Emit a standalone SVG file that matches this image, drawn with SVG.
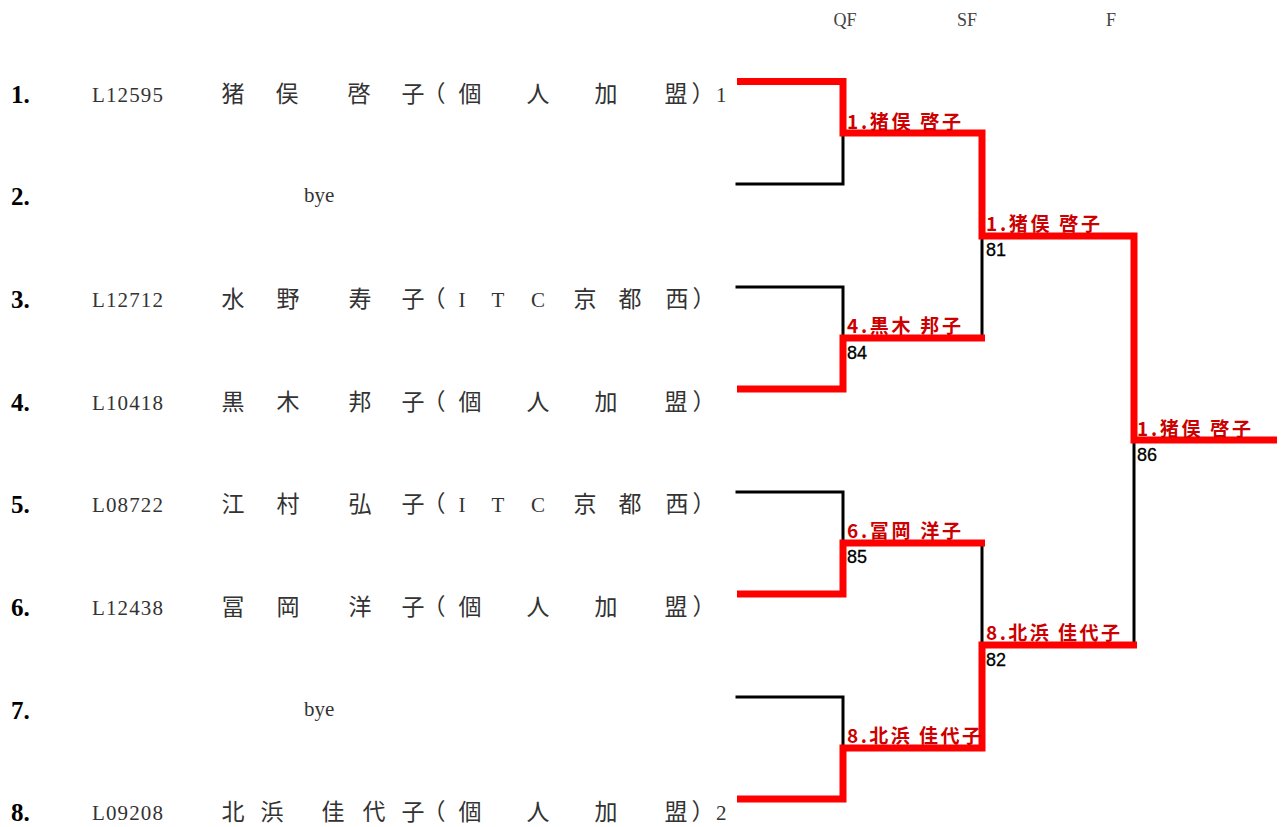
<svg xmlns="http://www.w3.org/2000/svg" width="1282" height="827" viewBox="0 0 1282 827">
<style>
.num{font-family:"Liberation Serif",serif;font-size:25px;font-weight:bold;fill:#000}
.id{font-family:"Liberation Serif",serif;font-size:21px;fill:#333}
.nm{font-family:"Noto Sans CJK JP",sans-serif;font-size:23px;fill:#333}
.lat{font-family:"Liberation Serif",serif;font-size:21px;fill:#333}
.hdr{font-family:"Liberation Serif",serif;font-size:18px;fill:#444}
.win{font-family:"Noto Sans CJK JP",sans-serif;font-size:19px;font-weight:bold;fill:#cc0000}
.sc{font-family:"Liberation Sans",sans-serif;font-size:18px;fill:#000;stroke:#000;stroke-width:0.3}
.red{fill:none;stroke:#ff0000;stroke-width:7;stroke-linejoin:miter;stroke-linecap:butt}
.blk{fill:none;stroke:#000;stroke-width:3;stroke-linecap:square}
</style>
<rect width="1282" height="827" fill="#fff"/>
<g id="headers">
<text class="hdr" x="845" y="26" text-anchor="middle">QF</text>
<text class="hdr" x="967" y="26" text-anchor="middle">SF</text>
<text class="hdr" x="1111" y="26" text-anchor="middle">F</text>
</g>
<g id="entry-1">
<text class="num" x="11" y="103">1.</text>
<text class="id" x="92" y="102" textLength="71">L12595</text>
<text class="nm" y="102" text-anchor="middle" x="233 287 359 413 434 470 538 606 676 703">猪俣啓子（個人加盟）</text>
<text class="lat" x="716" y="102">1</text>
</g>
<g id="entry-2">
<text class="num" x="11" y="205">2.</text>
<text class="lat" x="304" y="202">bye</text>
</g>
<g id="entry-3">
<text class="num" x="11" y="308">3.</text>
<text class="id" x="92" y="307" textLength="71">L12712</text>
<text class="nm" y="307" text-anchor="middle" x="233 288 360 413 434">水野寿子（</text>
<text class="lat" y="307" text-anchor="middle" x="462 498 538">ITC</text>
<text class="nm" y="307" text-anchor="middle" x="585 630 677 704">京都西）</text>
</g>
<g id="entry-4">
<text class="num" x="11" y="411">4.</text>
<text class="id" x="92" y="410" textLength="71">L10418</text>
<text class="nm" y="410" text-anchor="middle" x="233 288 360 413 434 470 538 606 676 704">黒木邦子（個人加盟）</text>
</g>
<g id="entry-5">
<text class="num" x="11" y="513">5.</text>
<text class="id" x="92" y="512" textLength="71">L08722</text>
<text class="nm" y="512" text-anchor="middle" x="233 288 360 413 434">江村弘子（</text>
<text class="lat" y="512" text-anchor="middle" x="462 498 538">ITC</text>
<text class="nm" y="512" text-anchor="middle" x="585 630 677 704">京都西）</text>
</g>
<g id="entry-6">
<text class="num" x="11" y="616">6.</text>
<text class="id" x="92" y="615" textLength="71">L12438</text>
<text class="nm" y="615" text-anchor="middle" x="233 288 360 413 434 470 538 606 676 704">冨岡洋子（個人加盟）</text>
</g>
<g id="entry-7">
<text class="num" x="11" y="719">7.</text>
<text class="lat" x="304" y="716">bye</text>
</g>
<g id="entry-8">
<text class="num" x="11" y="821">8.</text>
<text class="id" x="92" y="820" textLength="71">L09208</text>
<text class="nm" y="820" text-anchor="middle" x="233 272 333 374 413 434 470 538 606 676 703">北浜佳代子（個人加盟）</text>
<text class="lat" x="716" y="820">2</text>
</g>
<g id="connectors">
<polyline class="blk" points="737,184 843,184 843,133"/>
<polyline class="blk" points="737,287 843,287 843,338"/>
<polyline class="blk" points="982,236 982,338"/>
<polyline class="blk" points="737,492 843,492 843,543"/>
<polyline class="blk" points="982,543 982,645"/>
<polyline class="blk" points="737,697 843,697 843,748"/>
<polyline class="blk" points="1134,440 1134,645"/>
<polyline class="red" points="737,81.5 843,81.5 843,133 982,133 982,236 1134,236 1134,440 1277,440"/>
<polyline class="red" points="737,389 843,389 843,338 985,338"/>
<polyline class="red" points="737,594 843,594 843,543 985,543"/>
<polyline class="red" points="737,799 843,799 843,748 982,748 982,645 1137,645"/>
</g>
<g id="results">
<text class="win" x="847" y="129" textLength="114">1.猪俣 啓子</text>
<text class="win" x="986" y="231" textLength="114">1.猪俣 啓子</text>
<text class="sc" x="986" y="256">81</text>
<text class="win" x="847" y="333" textLength="114">4.黒木 邦子</text>
<text class="sc" x="847" y="359">84</text>
<text class="win" x="1137" y="436" textLength="114">1.猪俣 啓子</text>
<text class="sc" x="1137" y="461">86</text>
<text class="win" x="847" y="538" textLength="114">6.冨岡 洋子</text>
<text class="sc" x="847" y="563">85</text>
<text class="win" x="986" y="640" textLength="134">8.北浜 佳代子</text>
<text class="sc" x="986" y="666">82</text>
<text class="win" x="847" y="743" textLength="134">8.北浜 佳代子</text>
</g>
</svg>
